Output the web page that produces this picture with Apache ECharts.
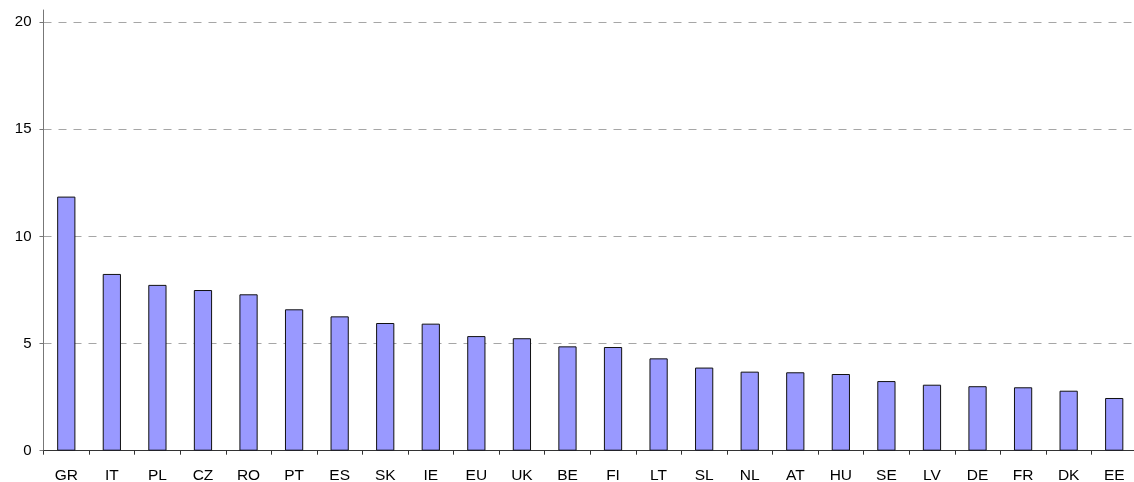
<!DOCTYPE html>
<html>
<head>
<meta charset="utf-8">
<script src="https://cdn.jsdelivr.net/npm/echarts@6/dist/echarts.min.js"></script>
<style>
html,body{margin:0;padding:0;background:#fff;}
#chart{width:1134px;height:482px;}
</style>
</head>
<body>
<div id="chart"></div>
<script>
const categories = ['GR','IT','PL','CZ','RO','PT','ES','SK','IE','EU','UK','BE','FI','LT','SL','NL','AT','HU','SE','LV','DE','FR','DK','EE'];
const values = [11.86,8.25,7.74,7.50,7.30,6.60,6.27,5.96,5.93,5.35,5.25,4.87,4.84,4.31,3.88,3.69,3.66,3.58,3.25,3.08,3.01,2.96,2.80,2.46];
const yTicks = [0,5,10,15,20];

const chart = echarts.init(document.getElementById('chart'));
chart.setOption({
  animation: false,
  grid: {left: 43.5, right: -3, top: 10, bottom: 31.3, containLabel: false, outerBoundsMode: 'none'},
  xAxis: {
    type: 'category',
    data: categories,
    axisLine: {lineStyle: {color: '#333', width: 1}},
    axisTick: {show: true, length: 4, alignWithLabel: false, lineStyle: {color: '#333'}},
    axisLabel: {color: '#000', fontFamily: 'Liberation Sans, Arial, sans-serif', fontSize: 15.5, margin: 17}
  },
  yAxis: {
    type: 'value',
    min: 0,
    max: 20.57,
    interval: 5,
    axisLine: {show: true, lineStyle: {color: '#777', width: 1}},
    axisTick: {show: true, length: 4, lineStyle: {color: '#777'}},
    axisLabel: {
      color: '#000', fontFamily: 'Liberation Sans, Arial, sans-serif', fontSize: 15, margin: 12,
      showMaxLabel: false,
      formatter: v => yTicks.includes(v) ? String(v) : ''
    },
    splitLine: {show: true, lineStyle: {color: ['#A6A6A6','#A6A6A6','#A6A6A6','#A6A6A6','#A6A6A6','rgba(0,0,0,0)'], type: [8,7], width: 1}}
  },
  series: [{
    type: 'bar',
    data: values,
    barWidth: '40%',
    itemStyle: {color: '#9999FF', borderColor: '#111', borderWidth: 1}
  }]
});
</script>
</body>
</html>
